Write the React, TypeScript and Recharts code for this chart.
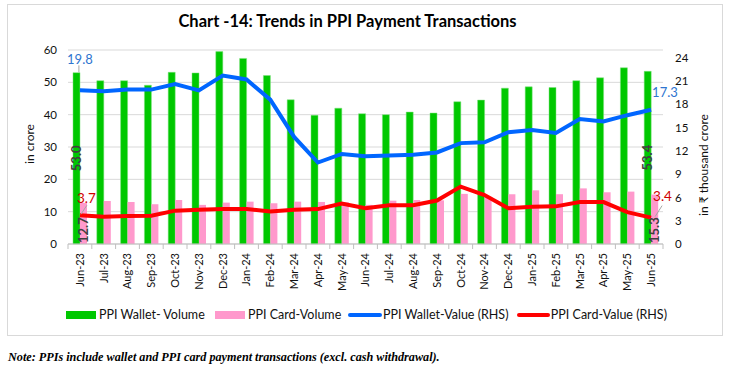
import React from "react";
import {
  ComposedChart,
  Bar,
  Line,
  XAxis,
  YAxis,
  CartesianGrid,
  LabelList,
} from "recharts";

const months = [
  "Jun-23", "Jul-23", "Aug-23", "Sep-23", "Oct-23", "Nov-23", "Dec-23", "Jan-24",
  "Feb-24", "Mar-24", "Apr-24", "May-24", "Jun-24", "Jul-24", "Aug-24", "Sep-24",
  "Oct-24", "Nov-24", "Dec-24", "Jan-25", "Feb-25", "Mar-25", "Apr-25", "May-25", "Jun-25",
];
const walletVolume = [
  53.0, 50.5, 50.5, 49.1, 53.1, 52.9, 59.5, 57.4, 52.1, 44.6, 39.8, 42.0, 40.3,
  40.0, 40.8, 40.5, 44.0, 44.5, 48.2, 48.6, 48.4, 50.5, 51.4, 54.5, 53.4,
];
const cardVolume = [
  12.7, 13.3, 13.0, 12.3, 13.6, 12.1, 12.8, 13.1, 12.6, 13.1, 13.0, 12.9, 12.1,
  13.4, 13.6, 13.5, 15.5, 14.6, 15.4, 16.6, 15.4, 17.2, 16.0, 16.2, 15.3,
];
const walletValue = [
  19.8, 19.7, 19.9, 19.9, 20.6, 19.8, 21.7, 21.2, 18.6, 13.8, 10.5, 11.6, 11.3,
  11.4, 11.5, 11.8, 13.0, 13.1, 14.4, 14.7, 14.3, 16.1, 15.8, 16.6, 17.3,
];
const cardValue = [
  3.7, 3.5, 3.6, 3.65, 4.3, 4.4, 4.5, 4.5, 4.2, 4.4, 4.5, 5.2, 4.6, 5.0, 5.0,
  5.6, 7.4, 6.3, 4.6, 4.8, 4.85, 5.4, 5.4, 4.1, 3.4,
];
const leftTicks = [0, 10, 20, 30, 40, 50, 60];
const rightTicks = [0, 3, 6, 9, 12, 15, 18, 21, 24];

const N = months.length;
const isEnd = (i: number) => i === 0 || i === N - 1;

const data = months.map((m, i) => ({
  month: m,
  wVol: walletVolume[i],
  cVol: cardVolume[i],
  wVal: walletValue[i],
  cVal: cardValue[i],
  wVolL: isEnd(i) ? walletVolume[i] : null,
  cVolL: isEnd(i) ? cardVolume[i] : null,
  wValL: isEnd(i) ? walletValue[i] : null,
  cValL: isEnd(i) ? cardValue[i] : null,
}));

const CHART_W = 733;
const CHART_H = 340;
const LEFT_W = 68;
const RIGHT_W = 70;
const BAND = (CHART_W - LEFT_W - RIGHT_W) / N;
const FONT = 'Lato, "Open Sans", sans-serif';

const XTick = (props: any) => {
  const { x, y, payload, index } = props;
  return (
    <g>
      <line x1={x - BAND / 2} x2={x - BAND / 2} y1={y} y2={y + 5} stroke="#bfbfbf" />
      {index === N - 1 && (
        <line x1={x + BAND / 2} x2={x + BAND / 2} y1={y} y2={y + 5} stroke="#bfbfbf" />
      )}
      <text
        transform={`translate(${x},${y + 9}) rotate(-90)`}
        textAnchor="end"
        dy="0.35em"
        fontSize={11}
        fill="#111"
      >
        {payload.value}
      </text>
    </g>
  );
};

const fmt = (v: any) => Number(v).toFixed(1);

const WalletVolLabel = (p: any) => {
  if (p.value === null || p.value === undefined) return null;
  const cx = p.x + p.width / 2;
  const cy = p.y + p.height / 2;
  return (
    <text
      transform={`translate(${cx},${cy}) rotate(-90)`}
      textAnchor="middle"
      dy="0.35em"
      fontSize={13}
      fontWeight="bold"
      fill="#404040"
    >
      {fmt(p.value)}
    </text>
  );
};

const CardVolLabel = (p: any) => {
  if (p.value === null || p.value === undefined) return null;
  const cx = p.x + p.width / 2;
  const by = p.y + p.height - 1;
  return (
    <text
      transform={`translate(${cx},${by}) rotate(-90)`}
      textAnchor="start"
      dy="0.35em"
      fontSize={13}
      fontWeight="bold"
      fill="#404040"
    >
      {fmt(p.value)}
    </text>
  );
};

const WalletValLabel = (p: any) => {
  if (p.value === null || p.value === undefined) return null;
  const first = p.index === 0;
  return (
    <g>
      {first && (
        <line x1={p.x - 1} x2={p.x - 1} y1={p.y - 25} y2={p.y - 18} stroke="#a6a6a6" />
      )}
      <text
        x={first ? p.x : p.x + 1}
        y={first ? p.y - 31 : p.y - 17}
        textAnchor={first ? "middle" : "start"}
        dy="0.35em"
        fontSize={13}
        fill="#2E75D0"
      >
        {fmt(p.value)}
      </text>
    </g>
  );
};

const CardValLabel = (p: any) => {
  if (p.value === null || p.value === undefined) return null;
  const first = p.index === 0;
  return (
    <g>
      <line
        x1={first ? p.x + 1 : p.x + 4}
        y1={p.y - 1}
        x2={first ? p.x + 7 : p.x + 11}
        y2={first ? p.y - 10 : p.y - 12}
        stroke="#a6a6a6"
      />
      <text
        x={first ? p.x - 3 : p.x + 2}
        y={first ? p.y - 17 : p.y - 21}
        textAnchor="start"
        dy="0.35em"
        fontSize={13.5}
        fill="#D00000"
      >
        {fmt(p.value)}
      </text>
    </g>
  );
};

const LeftAxisTitle = (props: any) => {
  const vb = props.viewBox || {};
  const cx = vb.x + 30;
  const cy = vb.y + vb.height / 2 - 3;
  return (
    <text transform={`translate(${cx},${cy}) rotate(-90)`} textAnchor="middle" dy="0.35em" fontSize={12} fill="#111">
      in crore
    </text>
  );
};

const RightAxisTitle = (props: any) => {
  const vb = props.viewBox || {};
  const cx = vb.x + 41;
  const cy = vb.y + vb.height / 2 + 18;
  return (
    <text transform={`translate(${cx},${cy}) rotate(-90)`} textAnchor="middle" dy="0.35em" fontSize={12} fill="#111">
      in ₹ thousand crore
    </text>
  );
};

const legendItems = [
  { label: "PPI Wallet- Volume", kind: "rect", color: "#00C800", w: 149 },
  { label: "PPI Card-Volume", kind: "rect", color: "#FF99CC", w: 133 },
  { label: "PPI Wallet-Value (RHS)", kind: "line", color: "#0066FF", w: 169 },
  { label: "PPI Card-Value (RHS)", kind: "line", color: "#FF0000", w: 150 },
];

const LegendBlock = () => (
  <div
    style={{
      position: "absolute",
      left: 66,
      top: 307,
      display: "flex",
      alignItems: "center",
      fontSize: 12.5,
      color: "#111",
      fontFamily: FONT,
    }}
  >
    {legendItems.map((it) => (
      <div key={it.label} style={{ width: it.w, display: "flex", alignItems: "center", whiteSpace: "nowrap" }}>
        {it.kind === "rect" ? (
          <span style={{ display: "inline-block", width: 30, height: 8, background: it.color, marginRight: 3 }} />
        ) : (
          <span style={{ display: "inline-block", width: 34, height: 4, borderRadius: 2, background: it.color, marginRight: 1 }} />
        )}
        <span>{it.label}</span>
      </div>
    ))}
  </div>
);

export default function App() {
  return (
    <div style={{ position: "absolute", left: 0, top: 0, width: 733, height: 370, background: "#fff", fontFamily: FONT }}>
      <div
        style={{
          position: "absolute",
          left: 7,
          top: 4,
          width: 714,
          height: 330,
          border: "1px solid #d9d9d9",
        }}
      />
      <div
        style={{
          position: "absolute",
          left: 0,
          top: 11,
          width: 695,
          textAlign: "center",
          fontSize: 16.5,
          fontWeight: "bold",
          color: "#000",
        }}
      >
        Chart -14: Trends in PPI Payment Transactions
      </div>
      <div style={{ position: "absolute", left: 0, top: 0 }}>
        <ComposedChart
          width={CHART_W}
          height={CHART_H}
          data={data}
          margin={{ top: 50, right: 0, bottom: 40, left: 0 }}
          barGap={0}
          barCategoryGap="20%"
        >
          <CartesianGrid yAxisId="left" vertical={false} stroke="#d9d9d9" />
          <XAxis
            dataKey="month"
            interval={0}
            height={56}
            tickLine={false}
            tickSize={0}
            tickMargin={0}
            axisLine={{ stroke: "#bfbfbf" }}
            tick={<XTick />}
          />
          <YAxis
            yAxisId="left"
            orientation="left"
            width={LEFT_W}
            domain={[0, 60]}
            ticks={leftTicks}
            axisLine={false}
            tickLine={false}
            tickMargin={5}
            tick={{ fontSize: 11.5, fill: "#111" }}
            label={<LeftAxisTitle />}
          />
          <YAxis
            yAxisId="right"
            orientation="right"
            width={RIGHT_W}
            domain={[0, 25]}
            ticks={rightTicks}
            axisLine={false}
            tickLine={false}
            tickMargin={6}
            tick={{ fontSize: 11.5, fill: "#111" }}
            label={<RightAxisTitle />}
          />
          <Bar yAxisId="left" dataKey="wVol" fill="#00C800" stroke="#7FE07F" strokeWidth={0.5} barSize={7} isAnimationActive={false}>
            <LabelList dataKey="wVolL" content={<WalletVolLabel />} />
          </Bar>
          <Bar yAxisId="left" dataKey="cVol" fill="#FF99CC" barSize={7} isAnimationActive={false}>
            <LabelList dataKey="cVolL" content={<CardVolLabel />} />
          </Bar>
          <Line
            yAxisId="right"
            dataKey="wVal"
            stroke="#0066FF"
            strokeWidth={4}
            dot={false}
            activeDot={false}
            isAnimationActive={false}
          >
            <LabelList dataKey="wValL" content={<WalletValLabel />} />
          </Line>
          <Line
            yAxisId="right"
            dataKey="cVal"
            stroke="#FF0000"
            strokeWidth={4}
            dot={false}
            activeDot={false}
            isAnimationActive={false}
          >
            <LabelList dataKey="cValL" content={<CardValLabel />} />
          </Line>
        </ComposedChart>
      </div>
      <LegendBlock />
      <div
        style={{
          position: "absolute",
          left: 8,
          top: 350,
          fontFamily: '"Liberation Serif", serif',
          fontStyle: "italic",
          fontWeight: "bold",
          fontSize: 12.2,
          color: "#000",
          whiteSpace: "nowrap",
        }}
      >
        Note: PPIs include wallet and PPI card payment transactions (excl. cash withdrawal).
      </div>
    </div>
  );
}
